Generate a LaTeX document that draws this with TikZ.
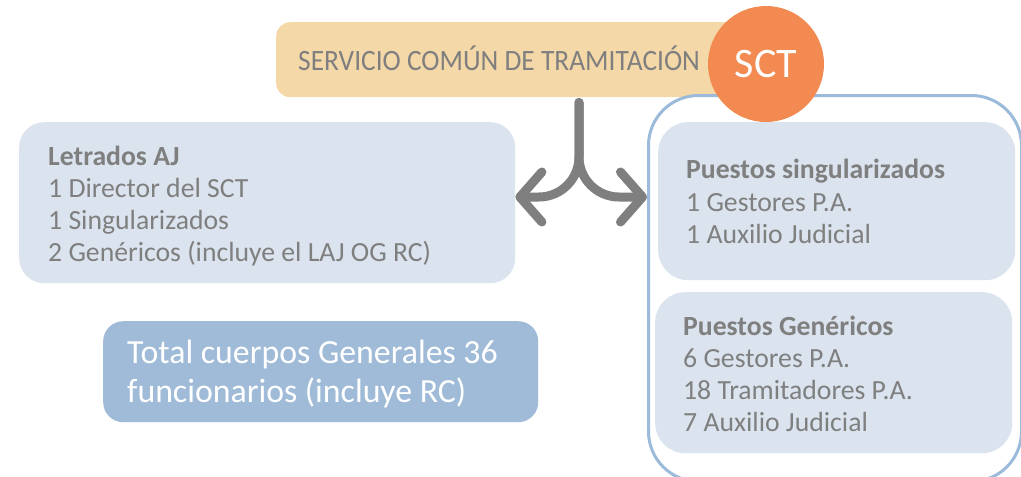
\documentclass[tikz,border=0pt]{standalone}
\usepackage{fontspec}
\setmainfont{Carlito}
\usetikzlibrary{arrows.meta}
\definecolor{hdrfill}{HTML}{F5D8A8}
\definecolor{sctorange}{HTML}{F28A52}
\definecolor{boxblue}{HTML}{DAE3EE}
\definecolor{totalblue}{HTML}{9FBBD8}
\definecolor{edgeblue}{HTML}{9CBBDB}
\definecolor{txtgray}{HTML}{7F7F7F}
\begin{document}
\begin{tikzpicture}[x=1pt,y=-1pt,
  panel/.style={fill=boxblue, rounded corners=25pt, inner sep=0pt, anchor=north west},
  body/.style={anchor=north west, inner sep=0pt, align=left, text=txtgray,
    font=\fontsize{27.7}{32}\selectfont, yshift=22.4pt},
  bigbody/.style={anchor=north west, inner sep=0pt, align=left, text=white,
    font=\fontsize{33.8}{39}\selectfont, yshift=27.3pt},
  fork/.style={draw=txtgray, line width=9pt, line cap=round,
    -{Straight Barb[length=22pt,width=50pt,round]}}]
\useasboundingbox (0,0) rectangle (1021,477);
\fill[white] (0,0) rectangle (1021,477);

% cabecera
\node[fill=hdrfill, rounded corners=14pt, inner sep=0pt, anchor=north west,
  minimum width=484pt, minimum height=75pt] (hdr) at (276,22) {};
\node[anchor=base west, inner sep=0pt, text=txtgray,
  font=\addfontfeatures{FakeStretch=0.93}\fontsize{29.5}{32}\selectfont] (hdrtext) at (298,70) {SERVICIO COMÚN DE TRAMITACIÓN};

% letrados
\node[panel, minimum width=496pt, minimum height=161pt] (letr) at (19,122) {};
\node[body] (letrtext) at (48,165) {\strut\textbf{Letrados AJ}\\1 Director del SCT\\1 Singularizados\\2 Genéricos (incluye el LAJ OG RC)};

% total
\node[panel, fill=totalblue, rounded corners=20pt, minimum width=435pt, minimum height=101pt] (total) at (103,321) {};
\node[bigbody] (totaltext) at (127,363)
  {\strut Total cuerpos Generales 36\\funcionarios (incluye RC)};

% puestos
\node[draw=edgeblue, line width=3pt, fill=white, rounded corners=50pt, inner sep=0pt,
  anchor=north west, minimum width=373pt, minimum height=386pt] (outer) at (647,94) {};
\node[panel, rounded corners=30pt, minimum width=357pt, minimum height=158pt] (sing) at (658,122) {};
\node[body, font=\fontsize{27.7}{32.5}\selectfont] (singtext) at (686,178)
  {\strut\textbf{Puestos singularizados}\\1 Gestores P.A.\\1 Auxilio Judicial};
\node[panel, rounded corners=30pt, minimum width=357pt, minimum height=161pt] (gen) at (655,292) {};
\node[body] (gentext) at (683,335)
  {\strut\textbf{Puestos Genéricos}\\6 Gestores P.A.\\18 Tramitadores P.A.\\7 Auxilio Judicial};

% circulo SCT
\node[circle, fill=sctorange, minimum size=116pt, inner sep=0pt, text=white,
  font=\fontsize{42}{44}\selectfont] (sct) at (766,64) {SCT};

% flechas
\coordinate (split) at (579,157);
\coordinate (fork) at (579,197);
\draw[fork] ([yshift=-5pt]split |- hdr.south) -- (split)
  .. controls (579,179) and (561,197) .. (539,197) -- (letr.east |- fork);
\draw[fork] ([yshift=-5pt]split |- hdr.south) -- (split)
  .. controls (579,179) and (597,197) .. (619,197) -- (outer.west |- fork);

\end{tikzpicture}
\end{document}
